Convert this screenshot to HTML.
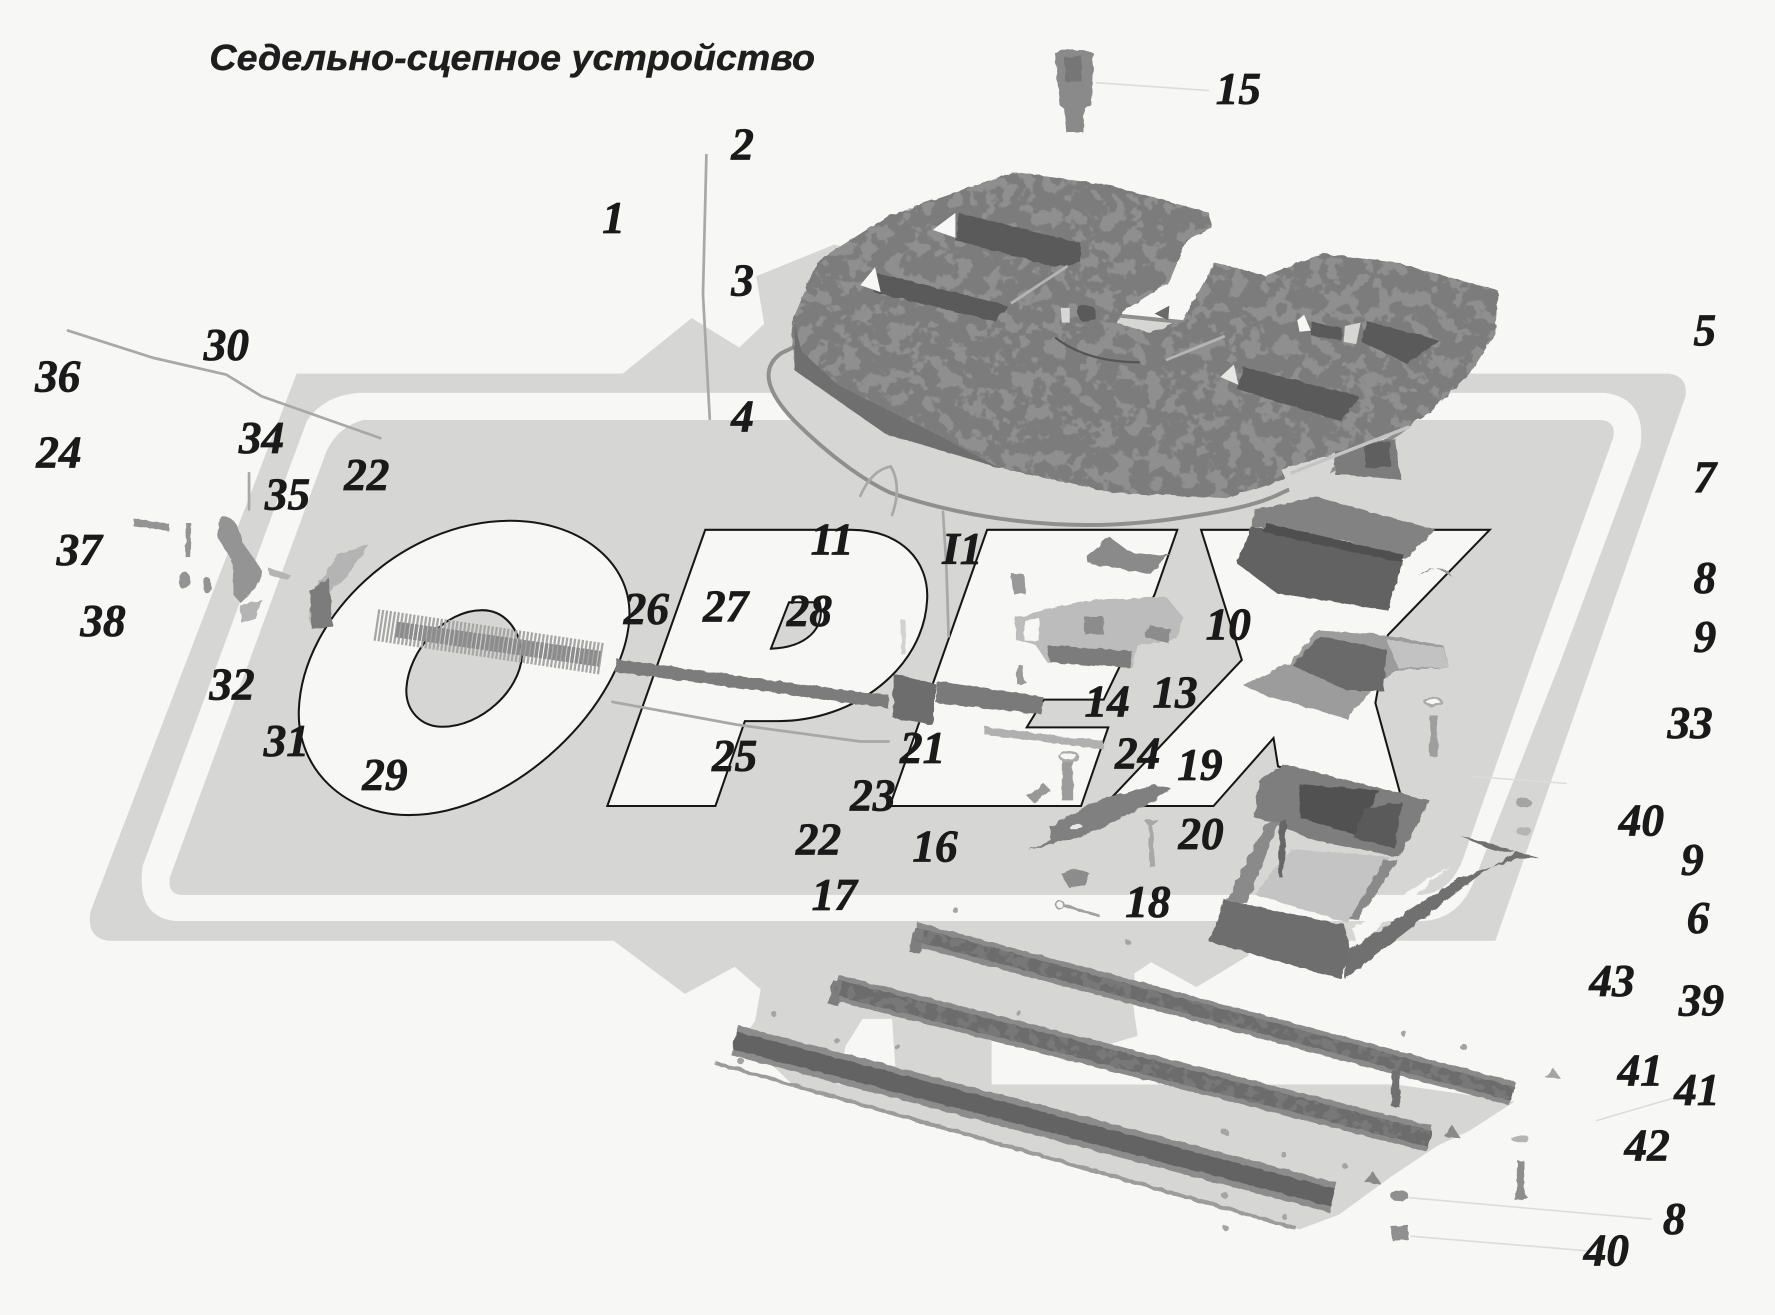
<!DOCTYPE html>
<html lang="ru">
<head>
<meta charset="utf-8">
<title>Седельно-сцепное устройство</title>
<style>
html,body{margin:0;padding:0;background:#f7f7f5;width:1775px;height:1315px;overflow:hidden}
svg{display:block}
.n{font-family:"Liberation Serif",serif;font-weight:bold;font-style:italic;font-size:40px;fill:#1a1a1a;stroke:#1a1a1a;stroke-width:.7px;text-anchor:middle}
.t{font-family:"Liberation Sans",sans-serif;font-weight:bold;font-style:italic;font-size:32px;fill:#1e1e1e;stroke:#1e1e1e;stroke-width:.4px}
.o{fill:#f7f7f5;stroke:#161616;stroke-width:1.8}
.l{fill:none;stroke:#a8a8a8;stroke-width:2.4;stroke-linecap:round;stroke-linejoin:round}
.f{fill:none;stroke:#dcdcda;stroke-width:1.4}
</style>
</head>
<body>
<svg xmlns="http://www.w3.org/2000/svg" width="1775" height="1315" viewBox="0 0 1568 1161.6">
<defs>
<filter id="rough" x="-5%" y="-5%" width="110%" height="110%">
<feTurbulence type="fractalNoise" baseFrequency=".12" numOctaves="2" seed="3" result="n"/>
<feDisplacementMap in="SourceGraphic" in2="n" scale="4"/>
</filter>
<filter id="mot" x="0" y="0" width="100%" height="100%" color-interpolation-filters="sRGB">
<feTurbulence type="fractalNoise" baseFrequency=".07" numOctaves="3" seed="7"/>
<feColorMatrix values="0 0 0 0 .56 0 0 0 0 .56 0 0 0 0 .56 14 0 0 0 -7.2"/>
<feComposite in2="SourceAlpha" operator="in"/>
</filter>
<filter id="mot2" x="-3%" y="-8%" width="106%" height="116%" color-interpolation-filters="sRGB">
<feTurbulence type="fractalNoise" baseFrequency=".11" numOctaves="2" seed="11"/>
<feColorMatrix values="0 0 0 0 .47 0 0 0 0 .47 0 0 0 0 .47 14 0 0 0 -7"/>
<feComposite in2="SourceAlpha" operator="in"/>
</filter>
</defs>

<rect width="1568" height="1162" fill="#f7f7f5"/>

<!-- logo outer grey -->
<path fill="#d6d6d4" d="M262 330 L550 330 L611 281 L653 307 L675 286 L668 244 L737 216 L1000 280 L1280 300 L1295 330 L1474 330 Q1491 332 1489 350 L1321 831 L1103 831 L1103 844 L1057 872 L1017 850 L1002 860 L1005 915 L1000 935 L1233 958 L1338 973 L1298 999 L1270 1012 L1228 1040 L1183 1073 L1148 1086 L700 960 L650 925 L667 902 L672 874 L649 854 L605 878 L542 831 L95 831 Q76 828 80 805 Z"/>
<!-- holes in plate -->
<path fill="#f7f7f5" d="M762 900 L788 900 L792 958 L740 958 L747 924 Z"/>
<path fill="#f7f7f5" d="M876 912 L876 958 L1233 958 L1233 945 L1000 875 L1002 895 L1005 915 L937 935 Z"/>
<path fill="#f7f7f5" d="M632 939 L645 905 L700 958 L690 965 Z"/>

<!-- white band -->
<path fill="#f7f7f5" d="M316 347 L1418 347 Q1455 352 1449 395 L1381 578 L1303 776 Q1290 811 1258 813.6 L155 813.6 Q120 810 126 765 L271 372 Q285 350 316 347 Z"/>
<!-- inner grey -->
<path fill="#d6d6d4" d="M321 371 L1414 371 Q1428 372 1425 387 L1356 578 L1293 757 Q1282 788 1256 790.5 L160 790.5 Q148 790 150 775 L286 405 Q295 378 321 371 Z"/>

<!-- O -->
<path class="o" d="M451 460 C510 460 558 495 556 545 C553 620 455 720 361 720 C305 720 262 680 264 627 C267 545 355 460 451 460 Z"/>
<path fill="#d6d6d4" stroke="#161616" stroke-width="1.8" d="M426 539 C448 539 461 560 461 580 C459 610 425 642 391 642 C372 642 358 628 359 608 C361 575 392 539 426 539 Z"/>
<!-- P -->
<path class="o" d="M623 468 L752 468 C795 468 821 495 819 530 C816 590 755 637 687 637 L658 637 L632 712 L536.5 712 Z"/>
<path fill="#d6d6d4" stroke="#161616" stroke-width="1.8" d="M697 532 L724 532 C730 555 712 572 681 573 Z"/>
<!-- E -->
<path class="o" d="M872 468 L1040 468 L1020 525 L1003 560 L975 618 L922 618 L907 642.5 L979 642.5 L955 712 L786 712 Z"/>
<!-- X -->
<path class="o" d="M1061 468 L1316 468 L1226 561 L1215 621 L1238 705 L1129 677 L1125 652 L1072 712 L975 712 L1097 583 Z"/>

<!-- rim -->
<path fill="#d6d6d4" stroke="#8f8f8f" stroke-width="3.5" d="M690 312 C672 325 676 345 702 372 C735 405 765 425 786 435 C830 450 880 460 932 463 C970 465 1000 463 1032 459 C1080 452 1110 447 1133 435 C1180 415 1220 395 1243 377 L1200 300 L800 260 Z"/>

<!-- disc -->
<g filter="url(#rough)">
<path fill="#7c7c7c" d="M897 152 L982 164 L1068 188 L1070 201 L1048 212 L1033 249 L992 275 L987 286 L1017 294 L1045 283 L1073 232 L1118 243.5 L1168 224 L1233 232 L1323 256.5 L1321 294 L1298 331 L1263 364 L1246 375.5 L1160 415 L1083 440 L982 435 L882 413 L782 383 L702 327 L699 286 L722 230.5 L786 190 Z"/>
</g>
<path filter="url(#mot)" fill="#000" d="M897 152 L982 164 L1068 188 L1070 201 L1048 212 L1033 249 L992 275 L987 286 L1017 294 L1045 283 L1073 232 L1118 243.5 L1168 224 L1233 232 L1323 256.5 L1321 294 L1298 331 L1263 364 L1246 375.5 L1160 415 L1083 440 L982 435 L882 413 L782 383 L702 327 L699 286 L722 230.5 L786 190 Z"/>
<path fill="#6f6f6f" d="M702 285 L702 327 L782 383 L882 413 L830 385 L740 340 L708 310 Z"/>
<!-- slots -->
<g fill="#5a5a5a" filter="url(#rough)">
<path d="M847 188 L955 215 L955 232 L932 236 L844 212 Z"/>
<path d="M770 240 L890 270 L880 284 L772 258 Z"/>
<path d="M1098 324 L1200 350 L1185 372 L1093 344 Z"/>
<path d="M1208 284 L1272 301 L1243 321 L1203 302 Z"/>
<path d="M1158 284 L1185 290 L1185 301 L1158 296 Z"/>
<circle cx="960" cy="277" r="8"/>
</g>
<!-- holes & highlights -->
<path fill="#f7f7f5" d="M824 203 L844 188 L844 210 Z"/>
<path fill="#f7f7f5" d="M760 252 L773 236 L778 258 Z"/>
<path fill="#f7f7f5" d="M1146 283 L1152 278 L1158 292 L1148 293 Z"/>
<path fill="#d6d6d4" d="M1188 288 L1202 285 L1198 304 L1187 302 Z"/>
<path fill="#e6e6e4" d="M1078 333 L1090 322 L1094 340 Z"/>
<path fill="#d6d6d4" d="M937 272 L945 272 L945 285 L938 285 Z"/>
<path d="M893 268 L943 235" stroke="#b4b4b4" stroke-width="2.5" fill="none"/>
<path d="M1030 318 L1082 297" stroke="#b4b4b4" stroke-width="2.5" fill="none"/>
<path d="M932 298 Q960 320 1007 320" stroke="#555" stroke-width="2" fill="none"/>
<path fill="#6a6a6a" d="M1020 277 L1033 270 L1032 283 Z"/>
<!-- rear bracket -->
<g filter="url(#rough)">
<path fill="#7c7c7c" d="M1178 400 L1198 393 L1232 387 L1238 424 L1205 420 L1180 420 Z"/>
<path fill="#d6d6d4" d="M1132 415 L1180 400 L1175 420 L1140 435 Z"/>
<path fill="#515151" d="M1205 392 L1228 390 L1228 412 L1207 414 Z" opacity=".7"/>
</g>
<path d="M1140 418 L1245 377" stroke="#c4c4c4" stroke-width="3" fill="none"/>

<!-- leaders -->
<path class="l" d="M624 137 L621 260 L627 370"/>
<path class="l" d="M60 292 L135 316 L200 331 L231 350 L336 387" stroke-width="2.8"/>
<path class="l" d="M541 620 L650 640 L760 655 L785 655"/>
<path class="l" d="M220 418 L220 450" stroke-width="2"/>
<path class="l" d="M833 452 L836 500 L838 562" stroke-width="2"/>
<path class="l" d="M760 438 Q770 415 787 412 Q797 430 788 455" stroke-width="1.5"/>
<path class="f" d="M968 73 L1068 80"/>
<path class="f" d="M1301 686 L1384 692"/>
<path class="f" d="M1245 1058 L1459 1077"/>
<path class="f" d="M1246 1092 L1403 1105"/>
<path class="f" d="M1410 990 L1485 968"/>

<!-- cap 15 -->
<g filter="url(#rough)">
<path fill="#8a8a8a" d="M932 47 Q949 40 966 47 L964 93 L958 96 L957 117 L942 117 L940 96 L936 93 Z"/>
<path fill="#767676" d="M940 50 L956 50 L955 72 L941 72 Z"/>
</g>

<!-- left small parts -->
<g filter="url(#rough)" fill="#949494">
<path d="M118 458 L150 463 L149 469 L118 465 Z"/>
<path d="M164 462 L169 462 L168 492 L164 492 Z"/>
<ellipse cx="163" cy="513" rx="5" ry="8"/>
<ellipse cx="183" cy="517" rx="4" ry="7"/>
<path d="M195 456 Q210 455 215 480 L232 505 L226 520 L212 532 L206 525 L205 495 L192 475 Z"/>
<path d="M237 502 L257 508 L254 513 L238 508 Z" fill="#b4b4b4"/>
<path d="M212 535 L232 530 L226 546 L213 550 Z" fill="#b4b4b4"/>
<path d="M326 480 L298 490 L285 510 L278 520 L272 545 L276 555 L294 553 L290 525 L310 505 Z" fill="#b4b4b4"/>
<path d="M274 522 L290 510 L292 528 L294 553 L275 555 Z" fill="#7c7c7c"/>
</g>

<!-- spring -->
<path d="M332 552 L532 582" stroke="#a6a6a6" stroke-width="28" stroke-dasharray="2 1.5" fill="none"/>
<path d="M350 556 L530 582" stroke="#8c8c8c" stroke-width="14" stroke-dasharray="3 1" fill="none"/>

<!-- rod -->
<g filter="url(#rough)">
<path d="M544 588 L785 620" stroke="#7b7b7b" stroke-width="11" fill="none"/>
<path fill="#7a7a7a" d="M827 601 L922 616 L920 631 L827 621 Z"/>
<path fill="#6d6d6d" d="M789 595 L827 604.6 L824 640 L789 634 Z"/>
<path fill="#8a8a8a" d="M960 491 L980 474 L997 487 L1027 491 L1034 488 L1017 507 L962 498 Z"/>
<path fill="#999" d="M893 506 L905 508 L906 525 L895 524 Z"/>
<path fill="#bcbcbc" d="M897 545 L960 530 L1030 527 L1045 545 L1040 565 L1005 570 L1000 590 L925 585 L915 570 L897 565 Z"/>
<path fill="#7c7c7c" d="M925 570 L1000 575 L998 590 L928 585 Z"/>
<path fill="#8c8c8c" d="M958 545 L975 545 L975 560 L958 560 Z"/>
<path fill="#8c8c8c" d="M1015 552 L1035 556 L1032 568 L1012 563 Z"/>
<path fill="#f7f7f5" d="M905 548 L918 546 L918 566 L905 566 Z"/>
<path fill="#d2d2d0" d="M796 548 L800 548 L800 578 L796 578 Z"/>
<path fill="#9a9a9a" d="M899 587 L903 587 L904 600 L907 603 L898 604 L898 600 Z"/>
<path fill="#b0b0b0" d="M870 642 L975 655 L975 662 L870 649 Z"/>
<path fill="#9c9c9c" d="M938 670 L948 670 L948 707 L938 707 Z"/>
<ellipse cx="944" cy="668" rx="8" ry="4" fill="#f7f7f5" stroke="#aaa" stroke-width="2"/>
<path fill="#999" d="M907 703 L922 692 L928 698 L914 710 Z"/>
<path fill="#808080" d="M908 751 L928 742 L928 730 L972 706 L1020 693 L1035 697 L1012 712 L972 732 L945 742 Z"/>
<ellipse cx="950" cy="730" rx="6" ry="2.5" fill="#e8e8e6"/>
<path fill="#a8a8a8" d="M1010 724 L1023 724 L1018 730 L1021 766 L1015 766 L1015 730 Z"/>
<path fill="#8c8c8c" d="M938 772 L950 767 L962 771 L958 782 L944 784 Z"/>
<path d="M940 800 L971 809" stroke="#a0a0a0" stroke-width="2.5" fill="none"/>
<circle cx="936" cy="799" r="3.5" fill="none" stroke="#a0a0a0" stroke-width="1.5"/>

<!-- block 7/8 -->
<path fill="#828282" d="M1108 450 L1163 439 L1268 468 L1241 494 L1190 478 L1105 465 Z"/>
<path fill="#626262" d="M1105 465 L1240 495 L1226 539 L1128 524 L1093 498 Z"/>
<path fill="#4f4f4f" d="M1118 462 L1240 490 L1238 497 L1116 470 Z"/>
<path fill="#999" d="M1253 509 Q1265 495 1283 510 L1278 503 Q1265 500 1253 509 Z"/>

<!-- plate 9 -->
<path fill="#9c9c9c" d="M1098 605 L1140 585 L1165 557 L1215 560 L1275 570 L1280 590 L1235 592 L1215 605 L1190 635 L1120 615 Z"/>
<path fill="#6a6a6a" d="M1142 588 L1166 562 L1225 574 L1222 610 L1190 610 Z"/>
<path fill="#c2c2c2" d="M1225 565 L1275 572 L1280 590 L1235 590 Z"/>
<path fill="#9e9e9e" d="M1263 632 L1270 632 L1270 668 L1263 668 Z"/>
<ellipse cx="1266" cy="620" rx="7" ry="3.5" fill="#f7f7f5" stroke="#aaa" stroke-width="2"/>

<!-- clamp 6 -->
<path fill="#c4c4c4" d="M1108 790 L1140 750 L1228 757 L1190 815 Z"/>
<path fill="#7e7e7e" d="M1112 690 L1133 675 L1263 707 L1236 757 L1160 742 L1128 728 L1108 722 Z"/>
<path fill="#515151" d="M1148 693 L1218 698 L1198 738 L1148 722 Z"/>
<path fill="#5a5a5a" d="M1205 715 L1238 708 L1232 750 L1196 740 Z"/>
<path fill="#8a8a8a" d="M1118 728 L1082 798 L1102 798 L1130 725 Z"/>
<path fill="#666" d="M1130 725 L1137 725 L1133 775 L1130 775 Z"/>
<path fill="#8a8a8a" d="M1223 760 L1192 812 L1200 812 L1235 760 Z"/>
<path fill="#6e6e6e" d="M1082 795 L1188 817 L1193 840 L1185 865 L1068 832 Z"/>
<path fill="#707070" d="M1190 840 L1290 775 L1342 758 L1360 758 L1290 738 L1320 752 L1340 752 L1308 772 L1188 865 Z"/>
<path fill="#f7f7f5" d="M1194 820 L1280 765 L1200 835 Z"/>
</g>

<!-- nuts/bolts right -->
<g filter="url(#rough)" fill="#a4a4a4">
<ellipse cx="1346" cy="709" rx="7" ry="4"/>
<ellipse cx="1346" cy="734" rx="7" ry="3.5" fill="#b5b5b5"/>
<ellipse cx="1343" cy="1006" rx="8" ry="3" fill="#b5b5b5"/>
<path d="M1340 1025 L1346 1025 L1347 1055 L1350 1058 L1338 1060 L1340 1055 Z" fill="#8e8e8e"/>
<ellipse cx="1236" cy="1056" rx="8" ry="5" fill="#909090"/>
<path d="M1228 1083 L1244 1082 L1244 1095 L1230 1096 Z" fill="#909090"/>
<path d="M1365 952 L1372 943 L1378 952 Z"/>
<path d="M1276 1004 L1283 994 L1290 1005 Z" fill="#8a8a8a"/>
<path d="M1205 1044 L1213 1035 L1220 1046 Z" fill="#8a8a8a"/>
<circle cx="844" cy="804" r="2.5"/><circle cx="1240" cy="913" r="2.5"/><circle cx="1293" cy="925" r="3"/>
<circle cx="997" cy="833" r="2.5"/><circle cx="900" cy="895" r="2.5"/><circle cx="793" cy="925" r="2.5"/>
<circle cx="1083" cy="1085" r="2.5"/><circle cx="1082" cy="1056" r="3"/><circle cx="1135" cy="1075" r="2.5"/>
<circle cx="1082" cy="1000" r="3"/><circle cx="1134" cy="1020" r="2.5"/><circle cx="1188" cy="1030" r="2.5"/>
<circle cx="655" cy="938" r="3"/><circle cx="740" cy="920" r="2.5"/><circle cx="684" cy="896" r="2.5"/>
</g>

<!-- bars -->
<g fill="none" filter="url(#rough)">
<path d="M808 825 L1336 966" stroke="#8a8a8a" stroke-width="21"/>
<path d="M808 825 L1336 966" stroke="#6c6c6c" stroke-width="12"/>
<path d="M812 820 L808 842" stroke="#7e7e7e" stroke-width="9"/>
<path d="M737 872 L1263 1006" stroke="#8a8a8a" stroke-width="23"/>
<path d="M737 872 L1263 1006" stroke="#6c6c6c" stroke-width="14"/>
<path d="M740 866 L736 888" stroke="#7e7e7e" stroke-width="9"/>
<path d="M649 919 L1178 1058" stroke="#8c8c8c" stroke-width="27"/>
<path d="M649 919 L1178 1058" stroke="#636363" stroke-width="16"/>
<path d="M1233 945 L1233 978" stroke="#707070" stroke-width="7"/>
<path d="M632 939 L1145 1085" stroke="#9c9c9c" stroke-width="3.5"/>
</g>
<g fill="none" filter="url(#mot2)">
<path d="M808 825 L1336 966" stroke="#000" stroke-width="12"/>
<path d="M737 872 L1263 1006" stroke="#000" stroke-width="14"/>
</g>

<!-- title -->
<text class="t" x="185" y="62" textLength="535" lengthAdjust="spacingAndGlyphs">Седельно-сцепное устройство</text>

<!-- numbers -->
<g class="n" transform="translate(0,-2)">
<text x="542" y="208">1</text>
<text x="656" y="143">2</text>
<text x="656" y="263">3</text>
<text x="656" y="383">4</text>
<text x="1506" y="307">5</text>
<text x="1506" y="437">7</text>
<text x="1506" y="526">8</text>
<text x="1506" y="578">9</text>
<text x="1493" y="654">33</text>
<text x="1450" y="740">40</text>
<text x="1495" y="775">9</text>
<text x="1500" y="826">6</text>
<text x="1424" y="882">43</text>
<text x="1503" y="899">39</text>
<text x="1449" y="961">41</text>
<text x="1499" y="978">41</text>
<text x="1455" y="1027">42</text>
<text x="1479" y="1092">8</text>
<text x="1419" y="1120">40</text>
<text x="1094" y="94">15</text>
<text x="200" y="320">30</text>
<text x="51" y="348">36</text>
<text x="52" y="415">24</text>
<text x="231" y="402">34</text>
<text x="324" y="435">22</text>
<text x="254" y="452">35</text>
<text x="70" y="501">37</text>
<text x="91" y="564">38</text>
<text x="205" y="620">32</text>
<text x="253" y="670">31</text>
<text x="340" y="700">29</text>
<text x="571" y="553">26</text>
<text x="641" y="551">27</text>
<text x="715" y="555">28</text>
<text x="735" y="492">11</text>
<text x="850" y="500">I1</text>
<text x="1085" y="567">10</text>
<text x="978" y="635">14</text>
<text x="1038" y="627">13</text>
<text x="1005" y="681">24</text>
<text x="1060" y="691">19</text>
<text x="815" y="676">21</text>
<text x="649" y="683">25</text>
<text x="771" y="718">23</text>
<text x="723" y="757">22</text>
<text x="826" y="763">16</text>
<text x="1061" y="752">20</text>
<text x="737" y="806">17</text>
<text x="1014" y="812">18</text>
</g>
</svg>
</body>
</html>
